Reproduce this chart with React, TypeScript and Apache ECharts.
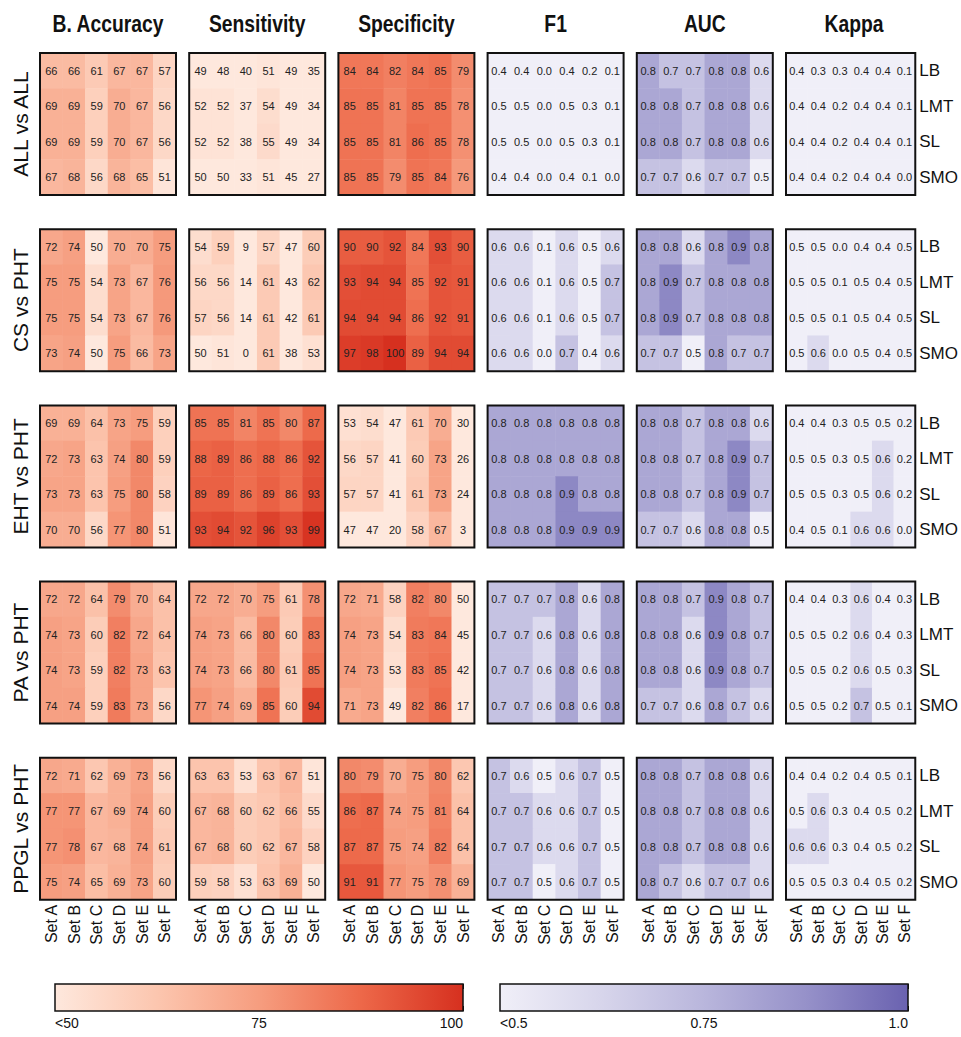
import React, { useEffect, useRef } from "react";
import * as echarts from "echarts";

// ---------- categories ----------
const sets = ["Set A", "Set B", "Set C", "Set D", "Set E", "Set F"];
const models = ["LB", "LMT", "SL", "SMO"];
const comparisons = ["ALL vs ALL", "CS vs PHT", "EHT vs PHT", "PA vs PHT", "PPGL vs PHT"];
const metrics = ["B. Accuracy", "Sensitivity", "Specificity", "F1", "AUC", "Kappa"];

// ---------- ALL vs ALL ----------
const allBAcc = [[66, 66, 61, 67, 67, 57], [69, 69, 59, 70, 67, 56], [69, 69, 59, 70, 67, 56], [67, 68, 56, 68, 65, 51]];
const allSens = [[49, 48, 40, 51, 49, 35], [52, 52, 37, 54, 49, 34], [52, 52, 38, 55, 49, 34], [50, 50, 33, 51, 45, 27]];
const allSpec = [[84, 84, 82, 84, 85, 79], [85, 85, 81, 85, 85, 78], [85, 85, 81, 86, 85, 78], [85, 85, 79, 85, 84, 76]];
const allF1 = [[0.4, 0.4, 0.0, 0.4, 0.2, 0.1], [0.5, 0.5, 0.0, 0.5, 0.3, 0.1], [0.5, 0.5, 0.0, 0.5, 0.3, 0.1], [0.4, 0.4, 0.0, 0.4, 0.1, 0.0]];
const allAUC = [[0.8, 0.7, 0.7, 0.8, 0.8, 0.6], [0.8, 0.8, 0.7, 0.8, 0.8, 0.6], [0.8, 0.8, 0.7, 0.8, 0.8, 0.6], [0.7, 0.7, 0.6, 0.7, 0.7, 0.5]];
const allKappa = [[0.4, 0.3, 0.3, 0.4, 0.4, 0.1], [0.4, 0.4, 0.2, 0.4, 0.4, 0.1], [0.4, 0.4, 0.2, 0.4, 0.4, 0.1], [0.4, 0.4, 0.2, 0.4, 0.4, 0.0]];

// ---------- CS vs PHT ----------
const csBAcc = [[72, 74, 50, 70, 70, 75], [75, 75, 54, 73, 67, 76], [75, 75, 54, 73, 67, 76], [73, 74, 50, 75, 66, 73]];
const csSens = [[54, 59, 9, 57, 47, 60], [56, 56, 14, 61, 43, 62], [57, 56, 14, 61, 42, 61], [50, 51, 0, 61, 38, 53]];
const csSpec = [[90, 90, 92, 84, 93, 90], [93, 94, 94, 85, 92, 91], [94, 94, 94, 86, 92, 91], [97, 98, 100, 89, 94, 94]];
const csF1 = [[0.6, 0.6, 0.1, 0.6, 0.5, 0.6], [0.6, 0.6, 0.1, 0.6, 0.5, 0.7], [0.6, 0.6, 0.1, 0.6, 0.5, 0.7], [0.6, 0.6, 0.0, 0.7, 0.4, 0.6]];
const csAUC = [[0.8, 0.8, 0.6, 0.8, 0.9, 0.8], [0.8, 0.9, 0.7, 0.8, 0.8, 0.8], [0.8, 0.9, 0.7, 0.8, 0.8, 0.8], [0.7, 0.7, 0.5, 0.8, 0.7, 0.7]];
const csKappa = [[0.5, 0.5, 0.0, 0.4, 0.4, 0.5], [0.5, 0.5, 0.1, 0.5, 0.4, 0.5], [0.5, 0.5, 0.1, 0.5, 0.4, 0.5], [0.5, 0.6, 0.0, 0.5, 0.4, 0.5]];

// ---------- EHT vs PHT ----------
const ehtBAcc = [[69, 69, 64, 73, 75, 59], [72, 73, 63, 74, 80, 59], [73, 73, 63, 75, 80, 58], [70, 70, 56, 77, 80, 51]];
const ehtSens = [[85, 85, 81, 85, 80, 87], [88, 89, 86, 88, 86, 92], [89, 89, 86, 89, 86, 93], [93, 94, 92, 96, 93, 99]];
const ehtSpec = [[53, 54, 47, 61, 70, 30], [56, 57, 41, 60, 73, 26], [57, 57, 41, 61, 73, 24], [47, 47, 20, 58, 67, 3]];
const ehtF1 = [[0.8, 0.8, 0.8, 0.8, 0.8, 0.8], [0.8, 0.8, 0.8, 0.8, 0.8, 0.8], [0.8, 0.8, 0.8, 0.9, 0.8, 0.8], [0.8, 0.8, 0.8, 0.9, 0.9, 0.9]];
const ehtAUC = [[0.8, 0.8, 0.7, 0.8, 0.8, 0.6], [0.8, 0.8, 0.7, 0.8, 0.9, 0.7], [0.8, 0.8, 0.7, 0.8, 0.9, 0.7], [0.7, 0.7, 0.6, 0.8, 0.8, 0.5]];
const ehtKappa = [[0.4, 0.4, 0.3, 0.5, 0.5, 0.2], [0.5, 0.5, 0.3, 0.5, 0.6, 0.2], [0.5, 0.5, 0.3, 0.5, 0.6, 0.2], [0.4, 0.5, 0.1, 0.6, 0.6, 0.0]];

// ---------- PA vs PHT ----------
const paBAcc = [[72, 72, 64, 79, 70, 64], [74, 73, 60, 82, 72, 64], [74, 73, 59, 82, 73, 63], [74, 74, 59, 83, 73, 56]];
const paSens = [[72, 72, 70, 75, 61, 78], [74, 73, 66, 80, 60, 83], [74, 73, 66, 80, 61, 85], [77, 74, 69, 85, 60, 94]];
const paSpec = [[72, 71, 58, 82, 80, 50], [74, 73, 54, 83, 84, 45], [74, 73, 53, 83, 85, 42], [71, 73, 49, 82, 86, 17]];
const paF1 = [[0.7, 0.7, 0.7, 0.8, 0.6, 0.8], [0.7, 0.7, 0.6, 0.8, 0.6, 0.8], [0.7, 0.7, 0.6, 0.8, 0.6, 0.8], [0.7, 0.7, 0.6, 0.8, 0.6, 0.8]];
const paAUC = [[0.8, 0.8, 0.7, 0.9, 0.8, 0.7], [0.8, 0.8, 0.6, 0.9, 0.8, 0.7], [0.8, 0.8, 0.6, 0.9, 0.8, 0.7], [0.7, 0.7, 0.6, 0.8, 0.7, 0.6]];
const paKappa = [[0.4, 0.4, 0.3, 0.6, 0.4, 0.3], [0.5, 0.5, 0.2, 0.6, 0.4, 0.3], [0.5, 0.5, 0.2, 0.6, 0.5, 0.3], [0.5, 0.5, 0.2, 0.7, 0.5, 0.1]];

// ---------- PPGL vs PHT ----------
const ppglBAcc = [[72, 71, 62, 69, 73, 56], [77, 77, 67, 69, 74, 60], [77, 78, 67, 68, 74, 61], [75, 74, 65, 69, 73, 60]];
const ppglSens = [[63, 63, 53, 63, 67, 51], [67, 68, 60, 62, 66, 55], [67, 68, 60, 62, 67, 58], [59, 58, 53, 63, 69, 50]];
const ppglSpec = [[80, 79, 70, 75, 80, 62], [86, 87, 74, 75, 81, 64], [87, 87, 75, 74, 82, 64], [91, 91, 77, 75, 78, 69]];
const ppglF1 = [[0.7, 0.6, 0.5, 0.6, 0.7, 0.5], [0.7, 0.7, 0.6, 0.6, 0.7, 0.5], [0.7, 0.7, 0.6, 0.6, 0.7, 0.5], [0.7, 0.7, 0.5, 0.6, 0.7, 0.5]];
const ppglAUC = [[0.8, 0.8, 0.7, 0.8, 0.8, 0.6], [0.8, 0.8, 0.7, 0.8, 0.8, 0.6], [0.8, 0.8, 0.7, 0.8, 0.8, 0.6], [0.8, 0.7, 0.6, 0.7, 0.7, 0.6]];
const ppglKappa = [[0.4, 0.4, 0.2, 0.4, 0.5, 0.1], [0.5, 0.6, 0.3, 0.4, 0.5, 0.2], [0.6, 0.6, 0.3, 0.4, 0.5, 0.2], [0.5, 0.5, 0.3, 0.4, 0.5, 0.2]];

// ---------- colour-bar ticks ----------
const redTicks = [50, 75, 100];
const redTickLabels = ["<50", "75", "100"];
const blueTicks = [0.5, 0.75, 1.0];
const blueTickLabels = ["<0.5", "0.75", "1.0"];

const table = [
  [allBAcc, allSens, allSpec, allF1, allAUC, allKappa],
  [csBAcc, csSens, csSpec, csF1, csAUC, csKappa],
  [ehtBAcc, ehtSens, ehtSpec, ehtF1, ehtAUC, ehtKappa],
  [paBAcc, paSens, paSpec, paF1, paAUC, paKappa],
  [ppglBAcc, ppglSens, ppglSpec, ppglF1, ppglAUC, ppglKappa],
];

const reds = ["#fee8dd", "#fcc6af", "#f69d7f", "#ed6849", "#d6301f"];
const blues = ["#f0eff8", "#d7d5eb", "#b9b6dc", "#9691c9", "#6a62b0"];

const SANS = "'Liberation Sans', Arial, Helvetica, sans-serif";

const PANEL_L0 = 40;
const PANEL_DX = 149.2;
const PANEL_W = 136;
const PANEL_T0 = 53;
const PANEL_DY = 176.2;
const PANEL_H = 142;

function buildOption() {
  const grid: any[] = [];
  const xAxis: any[] = [];
  const yAxis: any[] = [];
  const series: any[] = [];
  const redIdx: number[] = [];
  const blueIdx: number[] = [];

  table.forEach((row, r) => {
    row.forEach((mat, c) => {
      const gi = grid.length;
      const xi = xAxis.length;
      const yi = yAxis.length;
      grid.push({
        left: PANEL_L0 + c * PANEL_DX,
        top: PANEL_T0 + r * PANEL_DY,
        width: PANEL_W,
        height: PANEL_H,
        show: true,
        z: 3,
        borderColor: "#111",
        borderWidth: 2,
        backgroundColor: "transparent",
      });
      xAxis.push({
        type: "category",
        gridIndex: gi,
        data: sets,
        axisLine: { show: false },
        axisTick: { show: false },
        splitLine: { show: false },
        axisLabel: {
          show: r === table.length - 1,
          rotate: 90,
          fontSize: 16,
          fontFamily: SANS,
          color: "#111",
          margin: 5,
        },
      });
      yAxis.push({
        type: "category",
        gridIndex: gi,
        data: models,
        inverse: true,
        position: "right",
        axisLine: { show: false },
        axisTick: { show: false },
        splitLine: { show: false },
        axisLabel: {
          show: c === row.length - 1,
          fontSize: 17,
          fontFamily: SANS,
          color: "#111",
          margin: 4,
        },
      });
      const isPct = c < 3;
      const data: any[] = [];
      mat.forEach((vals, m) => vals.forEach((v, s) => data.push([s, m, v])));
      (isPct ? redIdx : blueIdx).push(series.length);
      series.push({
        type: "heatmap",
        xAxisIndex: xi,
        yAxisIndex: yi,
        data,
        label: {
          show: true,
          fontSize: 11,
          fontFamily: SANS,
          color: "#222",
          formatter: (p: any) => (isPct ? String(Math.round(p.value[2])) : p.value[2].toFixed(1)),
        },
        itemStyle: { borderWidth: 0 },
        emphasis: { disabled: true },
      });
    });
  });

  // colour bars
  const bars = [
    { left: 55, ticks: redTicks, labels: redTickLabels, colors: reds },
    { left: 500, ticks: blueTicks, labels: blueTickLabels, colors: blues },
  ];
  bars.forEach((b) => {
    const gi = grid.length;
    grid.push({
      left: b.left,
      top: 984,
      width: 408,
      height: 27,
      show: true,
      z: 3,
      borderColor: "#111",
      borderWidth: 1.5,
      backgroundColor: "transparent",
    });
    const lo = b.ticks[0];
    const hi = b.ticks[b.ticks.length - 1];
    const step = b.ticks[1] - b.ticks[0];
    const fmt = (v: number) => {
      const i = b.ticks.findIndex((t) => Math.abs(t - v) < 1e-9);
      return i >= 0 ? b.labels[i] : "";
    };
    const xi = xAxis.length;
    xAxis.push({
      type: "value",
      gridIndex: gi,
      min: lo,
      max: hi,
      interval: step,
      position: "bottom",
      axisLine: { show: false },
      splitLine: { show: false },
      axisTick: { show: true, inside: true, length: 5, lineStyle: { color: "#111", width: 1 } },
      axisLabel: {
        fontSize: 14,
        fontFamily: SANS,
        color: "#111",
        margin: 5,
        formatter: fmt,
        alignMinLabel: "left",
        alignMaxLabel: "right",
      },
    });
    xAxis.push({
      type: "value",
      gridIndex: gi,
      min: lo,
      max: hi,
      interval: step,
      position: "top",
      axisLine: { show: false },
      splitLine: { show: false },
      axisTick: { show: true, inside: true, length: 5, lineStyle: { color: "#111", width: 1 } },
      axisLabel: { show: false },
    });
    const yi = yAxis.length;
    yAxis.push({ type: "value", gridIndex: gi, min: 0, max: 1, show: false });
    const stops = b.colors.map((col, i) => ({ offset: i / (b.colors.length - 1), color: col }));
    series.push({
      type: "custom",
      xAxisIndex: xi,
      yAxisIndex: yi,
      data: [[lo, hi]],
      renderItem: (params: any, api: any) => {
        const p0 = api.coord([api.value(0), 0]);
        const p1 = api.coord([api.value(1), 1]);
        return {
          type: "rect",
          shape: { x: p0[0], y: p1[1], width: p1[0] - p0[0], height: p0[1] - p1[1] },
          style: { fill: new echarts.graphic.LinearGradient(0, 0, 1, 0, stops) },
        };
      },
    });
  });

  const graphic: any[] = [];
  metrics.forEach((m, c) => {
    graphic.push({
      type: "text",
      x: PANEL_L0 + c * PANEL_DX + PANEL_W / 2,
      y: 24,
      scaleX: 0.84,
      style: {
        text: m,
        font: `bold 23px ${SANS}`,
        fill: "#111",
        textAlign: "center",
        textVerticalAlign: "middle",
      },
    });
  });
  comparisons.forEach((cmp, r) => {
    graphic.push({
      type: "text",
      x: 20,
      y: PANEL_T0 + r * PANEL_DY + PANEL_H / 2,
      rotation: Math.PI / 2,
      style: {
        text: cmp,
        font: `21px ${SANS}`,
        fill: "#111",
        textAlign: "center",
        textVerticalAlign: "middle",
      },
    });
  });

  return {
    animation: false,
    backgroundColor: "#ffffff",
    grid,
    xAxis,
    yAxis,
    series,
    graphic,
    visualMap: [
      {
        type: "continuous",
        show: false,
        min: 50,
        max: 100,
        dimension: 2,
        seriesIndex: redIdx,
        inRange: { color: reds },
        outOfRange: { color: reds[0] },
      },
      {
        type: "continuous",
        show: false,
        min: 0.5,
        max: 1.0,
        dimension: 2,
        seriesIndex: blueIdx,
        inRange: { color: blues },
        outOfRange: { color: blues[0] },
      },
    ],
  };
}

export default function App() {
  const ref = useRef<HTMLDivElement>(null);
  useEffect(() => {
    document.body.style.margin = "0";
    if (!ref.current) return;
    const chart = echarts.init(ref.current, undefined, { renderer: "svg" });
    chart.setOption(buildOption() as any);
    return () => chart.dispose();
  }, []);
  return <div ref={ref} style={{ width: 961, height: 1037 }} />;
}
